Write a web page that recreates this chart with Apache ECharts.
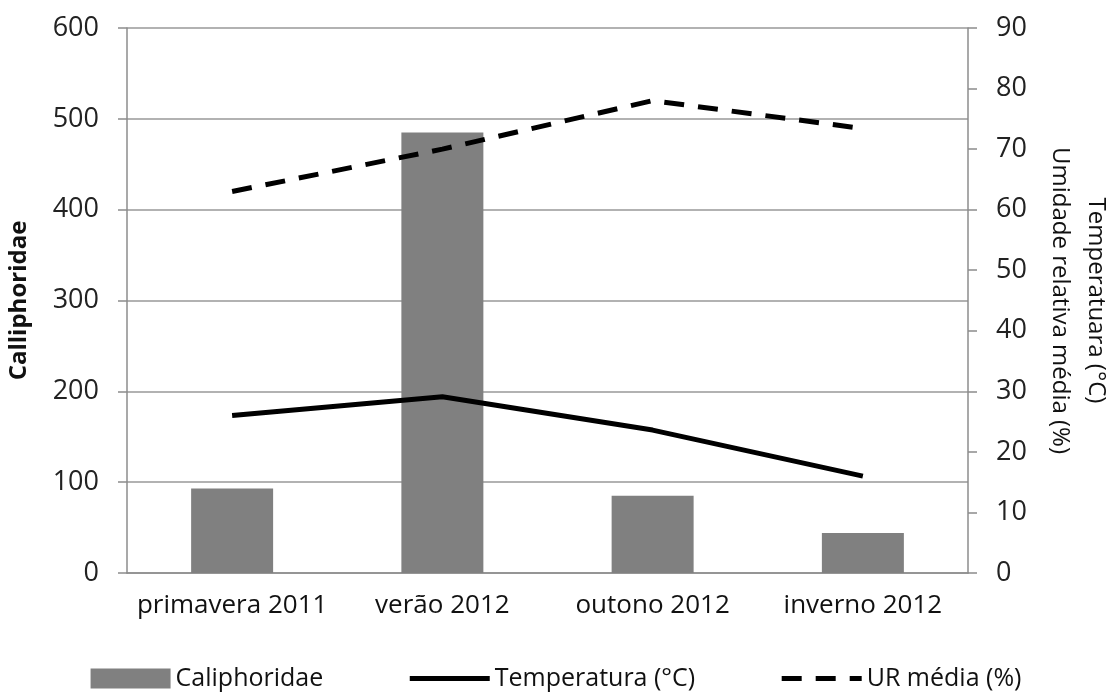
<!DOCTYPE html>
<html>
<head>
<meta charset="utf-8">
<script src="https://cdn.jsdelivr.net/npm/echarts@6/dist/echarts.min.js"></script>
<style>
  html, body { margin: 0; padding: 0; background: #fff; }
  #chart { width: 1112px; height: 696px; }
</style>
</head>
<body>
<div id="chart"></div>
<script>
const seasons = ['primavera 2011', 'verão 2012', 'outono 2012', 'inverno 2012'];
const caliphoridae = [93, 485, 85, 44];
const temperatura = [26, 29.1, 23.6, 16];
const urMedia = [63, 70, 78, 73.4];

const leftTicks = { min: 0, max: 600, interval: 100 };
const rightTicks = { min: 0, max: 90, interval: 10 };

const font = '"Open Sans", sans-serif';
const axisGray = '#8c8c8c';

const chart = echarts.init(document.getElementById('chart'));

chart.setOption({
    animation: false,
    grid: { left: 127, right: 144, top: 28, bottom: 123, outerBoundsMode: 'none', containLabel: false },
    legend: {
        bottom: 0,
        left: 'center',
        itemWidth: 80,
        itemHeight: 20,
        itemGap: 84,
        textStyle: { fontFamily: font, fontSize: 25, color: '#111' },
        data: [
            { name: 'Caliphoridae', icon: 'rect' },
            { name: 'Temperatura (°C)', itemStyle: { opacity: 0 }, lineStyle: { width: 5 } },
            { name: 'UR média (%)', itemStyle: { opacity: 0 }, lineStyle: { width: 5 } }
        ]
    },
    xAxis: {
        type: 'category',
        data: seasons,
        axisLine: { lineStyle: { color: axisGray, width: 1.5 } },
        axisTick: { length: 9, lineStyle: { color: axisGray, width: 1.5 } },
        axisLabel: { interval: 0, fontFamily: font, fontSize: 26, color: '#111', margin: 20 }
    },
    yAxis: [
        {
            type: 'value',
            ...leftTicks,
            name: 'Calliphoridae',
            nameLocation: 'middle',
            nameGap: 96,
            nameTextStyle: { fontFamily: font, fontSize: 24, fontWeight: 'bold', color: '#111' },
            axisLine: { show: true, lineStyle: { color: axisGray, width: 1.5 } },
            axisTick: { show: true, length: 9, lineStyle: { color: axisGray, width: 1.5 } },
            axisLabel: { fontFamily: font, fontSize: 27, color: '#222', margin: 28 },
            splitLine: { lineStyle: { color: '#999', width: 1.5 } }
        },
        {
            type: 'value',
            ...rightTicks,
            name: 'Temperatuara (°C)\nUmidade relativa média (%)',
            nameLocation: 'middle',
            nameRotate: -90,
            nameGap: 74,
            nameTextStyle: { fontFamily: font, fontSize: 24, color: '#111', lineHeight: 36 },
            axisLine: { show: true, lineStyle: { color: axisGray, width: 1.5 } },
            axisTick: { show: true, length: 9, lineStyle: { color: axisGray, width: 1.5 } },
            axisLabel: { fontFamily: font, fontSize: 27, color: '#222', margin: 28 },
            splitLine: { show: false }
        }
    ],
    series: [
        {
            name: 'Caliphoridae',
            type: 'bar',
            data: caliphoridae,
            barWidth: '39%',
            itemStyle: { color: '#808080' }
        },
        {
            name: 'Temperatura (°C)',
            type: 'line',
            yAxisIndex: 1,
            data: temperatura,
            symbol: 'none',
            itemStyle: { color: '#000' },
            lineStyle: { color: '#000', width: 5 }
        },
        {
            name: 'UR média (%)',
            type: 'line',
            yAxisIndex: 1,
            data: urMedia,
            symbol: 'none',
            itemStyle: { color: '#000' },
            lineStyle: { color: '#000', width: 5, type: [20, 14] }
        }
    ]
});

window.addEventListener('resize', () => chart.resize());
</script>
</body>
</html>
